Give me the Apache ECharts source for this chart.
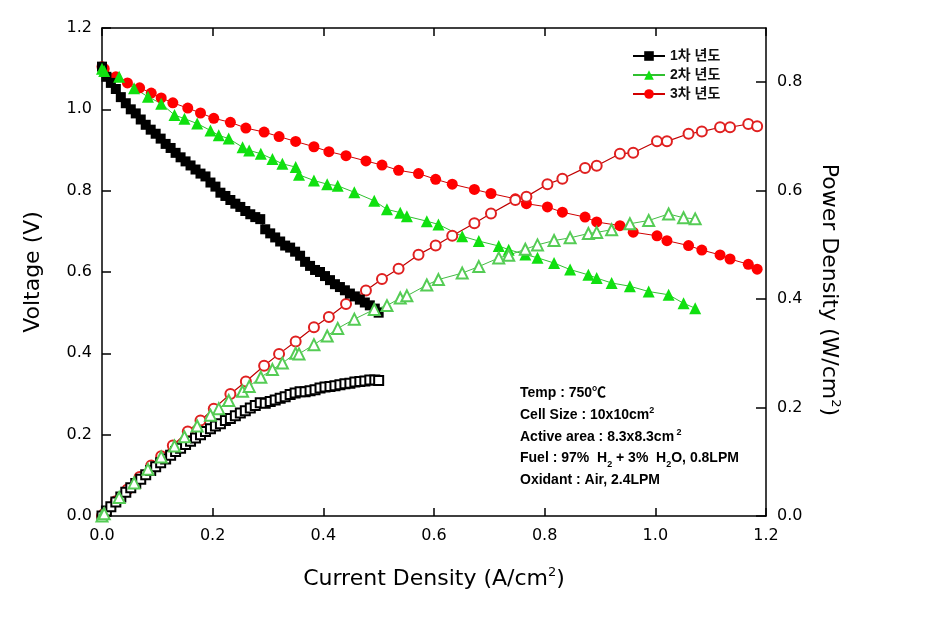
<!DOCTYPE html>
<html>
<head>
<meta charset="utf-8">
<script src="https://cdn.jsdelivr.net/npm/echarts@6/dist/echarts.min.js"></script>
<style>
html,body{margin:0;padding:0;background:#fff;}
#chart{width:944px;height:626px;}
</style>
</head>
<body>
<div id="chart"></div>
<script>
// ---- data ----
var seriesNames = ['1차 년도', '2차 년도', '3차 년도'];
var xTicks = ['0.0', '0.2', '0.4', '0.6', '0.8', '1.0', '1.2'];

// 1차 년도
var i1 = [0.000,0.008,0.016,0.025,0.034,0.043,0.052,0.061,0.070,0.079,0.088,0.097,0.106,0.115,0.124,0.133,0.142,0.151,0.160,0.169,0.178,0.187,0.196,0.205,0.214,0.223,0.232,0.241,0.250,0.259,0.268,0.277,0.286,0.295,0.304,0.313,0.322,0.331,0.340,0.349,0.358,0.367,0.376,0.385,0.394,0.403,0.412,0.421,0.430,0.439,0.448,0.457,0.466,0.475,0.484,0.493,0.500];
var v1 = [1.105,1.080,1.065,1.050,1.030,1.015,1.000,0.990,0.975,0.962,0.950,0.940,0.928,0.915,0.905,0.893,0.882,0.872,0.862,0.852,0.842,0.835,0.820,0.810,0.795,0.787,0.777,0.768,0.760,0.750,0.742,0.735,0.730,0.705,0.695,0.685,0.675,0.665,0.660,0.650,0.640,0.625,0.615,0.605,0.600,0.590,0.580,0.570,0.563,0.555,0.547,0.540,0.532,0.525,0.518,0.510,0.500];
var p1 = [0.000,0.009,0.017,0.026,0.035,0.044,0.052,0.060,0.068,0.076,0.084,0.091,0.098,0.105,0.112,0.119,0.125,0.132,0.138,0.144,0.150,0.156,0.161,0.166,0.170,0.176,0.180,0.185,0.190,0.194,0.199,0.204,0.209,0.208,0.211,0.214,0.217,0.220,0.224,0.227,0.229,0.229,0.231,0.233,0.236,0.238,0.239,0.240,0.242,0.244,0.245,0.247,0.248,0.249,0.251,0.251,0.250];

// 2차 년도
var i2 = [0.000,0.004,0.031,0.058,0.083,0.107,0.131,0.149,0.172,0.196,0.211,0.229,0.254,0.266,0.287,0.308,0.326,0.350,0.356,0.383,0.407,0.426,0.456,0.492,0.515,0.539,0.551,0.587,0.608,0.651,0.681,0.717,0.735,0.765,0.787,0.817,0.846,0.879,0.894,0.921,0.954,0.988,1.024,1.051,1.072];
var v2 = [1.100,1.094,1.080,1.052,1.031,1.014,0.986,0.977,0.965,0.948,0.936,0.928,0.907,0.899,0.891,0.878,0.866,0.858,0.839,0.825,0.816,0.812,0.796,0.775,0.754,0.746,0.737,0.725,0.717,0.688,0.676,0.664,0.655,0.643,0.635,0.622,0.606,0.593,0.585,0.573,0.565,0.552,0.544,0.523,0.511];
var p2 = [0.000,0.004,0.034,0.061,0.086,0.109,0.129,0.146,0.166,0.186,0.198,0.213,0.230,0.239,0.256,0.270,0.282,0.300,0.299,0.316,0.332,0.346,0.363,0.381,0.388,0.402,0.406,0.426,0.436,0.448,0.460,0.476,0.481,0.492,0.500,0.508,0.513,0.521,0.523,0.528,0.539,0.545,0.557,0.550,0.548];

// 3차 년도
var i3 = [0.000,0.004,0.025,0.046,0.068,0.089,0.107,0.128,0.155,0.178,0.202,0.232,0.260,0.293,0.320,0.350,0.383,0.410,0.441,0.477,0.506,0.536,0.572,0.603,0.633,0.673,0.703,0.747,0.767,0.805,0.832,0.873,0.894,0.936,0.960,1.003,1.021,1.060,1.084,1.117,1.135,1.168,1.184];
var v3 = [1.105,1.100,1.080,1.065,1.053,1.040,1.028,1.016,1.003,0.991,0.978,0.968,0.954,0.944,0.933,0.921,0.908,0.896,0.886,0.873,0.863,0.850,0.842,0.828,0.816,0.803,0.793,0.780,0.768,0.760,0.747,0.735,0.723,0.714,0.698,0.689,0.677,0.665,0.654,0.642,0.632,0.619,0.607];
var p3 = [0.000,0.004,0.027,0.049,0.072,0.093,0.110,0.130,0.156,0.176,0.198,0.225,0.248,0.277,0.299,0.322,0.348,0.367,0.391,0.416,0.437,0.456,0.482,0.499,0.517,0.540,0.558,0.583,0.589,0.612,0.622,0.642,0.646,0.668,0.670,0.691,0.691,0.705,0.709,0.717,0.717,0.723,0.719];

function zip(a, b) { return a.map(function (x, k) { return [x, b[k]]; }); }

var FONT = '"Liberation Sans", Arial, "Noto Sans CJK KR", sans-serif';
var AXF = '"DejaVu Sans", sans-serif';
var chart = echarts.init(document.getElementById('chart'));

var axisLineStyle = { color: '#000', width: 1.5 };
function fmt1(v) { return v.toFixed(1); }

var nameRich = {
  a: { fontSize: 22, fontFamily: AXF, color: '#000', lineHeight: 26 },
  s: { fontSize: 13, fontFamily: AXF, color: '#000', lineHeight: 12, verticalAlign: 'top' }
};

var boldF = 'bold 14px ' + FONT;
var smallF = 'bold 9px ' + FONT;
var supRich = {
  b: { font: boldF, fill: '#000', lineHeight: 18 },
  s: { font: smallF, fill: '#000', lineHeight: 8, verticalAlign: 'top' }
};
var subRich = {
  b: { font: boldF, fill: '#000', lineHeight: 18, verticalAlign: 'top' },
  u: { font: smallF, fill: '#000', lineHeight: 8, verticalAlign: 'bottom' }
};

var option = {
  animation: false,
  backgroundColor: '#fff',
  textStyle: { fontFamily: FONT },
  grid: { left: 102, right: 178, top: 28, bottom: 110, containLabel: false },
  legend: {
    data: [
      { name: seriesNames[0] },
      { name: seriesNames[1] },
      { name: seriesNames[2] }
    ],
    orient: 'vertical',
    left: 627,
    top: 44,
    itemWidth: 32,
    itemHeight: 12,
    itemGap: 5,
    textStyle: { fontFamily: FONT, fontSize: 14, fontWeight: 'bold', color: '#111' }
  },
  xAxis: [{
    type: 'value', min: 0, max: 1.2, interval: 0.2, position: 'bottom',
    name: '{a|Current Density (A/cm}{s|2}{a|)}',
    nameLocation: 'middle', nameGap: 50,
    nameTextStyle: { fontFamily: AXF, color: '#000', rich: nameRich },
    axisLine: { show: true, onZero: false, lineStyle: axisLineStyle },
    axisTick: { show: true, inside: true, length: 8, lineStyle: axisLineStyle },
    axisLabel: { fontSize: 16, fontFamily: AXF, color: '#000', margin: 12, formatter: function (v) { return xTicks[Math.round(v / 0.2)] || fmt1(v); } },
    splitLine: { show: false }
  }, {
    type: 'value', min: 0, max: 1.2, interval: 0.2, position: 'top',
    axisLine: { show: true, onZero: false, lineStyle: axisLineStyle },
    axisTick: { show: true, inside: true, length: 8, lineStyle: axisLineStyle },
    axisLabel: { show: false },
    splitLine: { show: false }
  }],
  yAxis: [{
    type: 'value', min: 0, max: 1.2, interval: 0.2, position: 'left',
    name: 'Voltage (V)', nameLocation: 'middle', nameGap: 56,
    nameTextStyle: { fontSize: 22, color: '#000', fontFamily: AXF, lineHeight: 26 },
    axisLine: { show: true, onZero: false, lineStyle: axisLineStyle },
    axisTick: { show: true, inside: true, length: 9, lineStyle: axisLineStyle },
    axisLabel: { fontSize: 16, fontFamily: AXF, color: '#000', margin: 10, formatter: fmt1 },
    splitLine: { show: false }
  }, {
    type: 'value', min: 0, max: 0.9, interval: 0.2, position: 'right',
    name: '{a|Power Density (W/cm}{s|2}{a|)}', nameLocation: 'middle', nameGap: 50, nameRotate: -90,
    nameTextStyle: { fontFamily: AXF, color: '#000', padding: [0, 0, 0, 36], rich: nameRich },
    axisLine: { show: true, onZero: false, lineStyle: axisLineStyle },
    axisTick: { show: true, inside: true, length: 10, lineStyle: axisLineStyle },
    axisLabel: { fontSize: 16, fontFamily: AXF, color: '#000', margin: 11, formatter: fmt1, showMaxLabel: false },
    splitLine: { show: false }
  }],
  series: [
    {
      name: seriesNames[2], type: 'line', xAxisIndex: 0, yAxisIndex: 0,
      data: zip(i3, v3), symbol: 'circle', symbolSize: 11,
      itemStyle: { color: '#ff0000' }, lineStyle: { color: '#d00000', width: 1 }
    },
    {
      name: '3차 P', type: 'line', xAxisIndex: 0, yAxisIndex: 1,
      data: zip(i3, p3), symbol: 'emptyCircle', symbolSize: 10,
      itemStyle: { color: '#e02020', borderWidth: 0.8 }, lineStyle: { color: '#c00000', width: 1.2 }
    },
    {
      name: seriesNames[0], type: 'line', xAxisIndex: 0, yAxisIndex: 0,
      data: zip(i1, v1), symbol: 'rect', symbolSize: 10,
      itemStyle: { color: '#000' }, lineStyle: { color: '#000', width: 1 }
    },
    {
      name: '1차 P', type: 'line', xAxisIndex: 0, yAxisIndex: 1,
      data: zip(i1, p1), symbol: 'emptyRect', symbolSize: 9,
      itemStyle: { color: '#000', borderWidth: 0.8 }, lineStyle: { color: '#000', width: 1 }
    },
    {
      name: seriesNames[1], type: 'line', xAxisIndex: 0, yAxisIndex: 0,
      data: zip(i2, v2), symbol: 'triangle', symbolSize: 12,
      itemStyle: { color: '#10e010' }, lineStyle: { color: '#30c030', width: 1 }
    },
    {
      name: '2차 P', type: 'line', xAxisIndex: 0, yAxisIndex: 1,
      data: zip(i2, p2), symbol: 'emptyTriangle', symbolSize: 11,
      itemStyle: { color: '#55cc55', borderWidth: 0.8 }, lineStyle: { color: '#44bb44', width: 1 }
    }
  ],
  graphic: [
    { type: 'text', x: 520, y: 393, style: { text: 'Temp : 750℃', font: boldF, fill: '#000', verticalAlign: 'middle' } },
    { type: 'text', x: 520, y: 415, style: { text: '{b|Cell Size : 10x10cm}{s|2}', fill: '#000', verticalAlign: 'middle', rich: supRich } },
    { type: 'text', x: 520, y: 437, style: { text: '{b|Active area : 8.3x8.3cm}{s| 2}', fill: '#000', verticalAlign: 'middle', rich: supRich } },
    { type: 'text', x: 520, y: 460, style: { text: '{b|Fuel : 97%  H}{u|2}{b| + 3%  H}{u|2}{b|O, 0.8LPM}', fill: '#000', verticalAlign: 'middle', rich: subRich } },
    { type: 'text', x: 520, y: 480, style: { text: 'Oxidant : Air, 2.4LPM', font: boldF, fill: '#000', verticalAlign: 'middle' } }
  ]
};
chart.setOption(option);
</script>
</body>
</html>
